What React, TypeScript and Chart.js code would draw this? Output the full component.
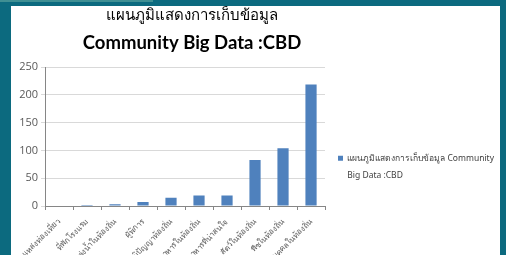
import { useEffect, useRef } from "react";
import { Chart, registerables } from "chart.js";
Chart.register(...registerables);

const categories = [
  "แหล่งท่องเที่ยว",
  "ที่พักโรงแรม",
  "แหล่งน้ำในท้องถิ่น",
  "ผู้พิการ",
  "ภูมิปัญญาท้องถิ่น",
  "อาหารในท้องถิ่น",
  "อาหารที่น่าสนใจ",
  "สัตว์ในท้องถิ่น",
  "พืชในท้องถิ่น",
  "บุคคลในท้องถิ่น",
];
const values = [0, 2, 3, 7, 15, 19, 19, 83, 104, 219];
const seriesLabel = "แผนภูมิแสดงการเก็บข้อมูล Community Big Data :CBD";
const legendLines = ["แผนภูมิแสดงการเก็บข้อมูล Community", "Big Data :CBD"];
const titleText = "แผนภูมิแสดงการเก็บข้อมูล";
const subtitleText = "Community Big Data :CBD";
const yMin = 0;
const yMax = 250;
const yStep = 50;

const FONT = "'Noto Sans', 'Open Sans', sans-serif";

export default function App() {
  const ref = useRef<HTMLCanvasElement>(null);
  useEffect(() => {
    document.body.style.margin = "0";
    const chart = new Chart(ref.current!, {
      type: "bar",
      data: {
        labels: categories,
        datasets: [
          {
            label: seriesLabel,
            data: values,
            backgroundColor: "#4f81bd",
            categoryPercentage: 1,
            barPercentage: 0.4,
          },
        ],
      },
      options: {
        animation: false,
        responsive: false,
        maintainAspectRatio: false,
        layout: { padding: { left: -131, right: -4, top: 0, bottom: 0 } },
        plugins: {
          tooltip: { enabled: false },
          title: {
            display: true,
            text: titleText,
            fullSize: true,
            color: "#000",
            font: { family: FONT, size: 15, weight: "normal", lineHeight: 1.2 },
            padding: { top: 1, bottom: 3 },
          },
          subtitle: {
            display: true,
            text: subtitleText,
            fullSize: true,
            color: "#000",
            font: { family: "Lato, 'Open Sans', sans-serif", size: 18.5, weight: "bold", lineHeight: 1.2 },
            padding: { top: 4, bottom: 13 },
          },
          legend: {
            display: true,
            position: "right",
            align: "start",
            maxWidth: 300,
            title: {
              display: true,
              text: "",
              font: { size: 10, lineHeight: 1 },
              padding: { top: 125, bottom: 0 },
            },
            labels: {
              boxWidth: 5,
              boxHeight: 5,
              padding: 13,
              color: "#404040",
              font: { family: FONT, size: 8.5, lineHeight: 2.0 },
              generateLabels: (c: any) => {
                const items = Chart.defaults.plugins.legend.labels.generateLabels(c);
                items.forEach((it: any) => {
                  it.text = legendLines;
                  it.lineWidth = 0;
                });
                return items;
              },
            },
          },
        },
        scales: {
          x: {
            grid: { drawOnChartArea: false, offset: true, tickLength: 4, color: "#868686" },
            border: { color: "#868686" },
            ticks: {
              minRotation: 45,
              maxRotation: 45,
              autoSkip: false,
              color: "#595959",
              padding: 7,
              font: { family: FONT, size: 8 },
            },
            afterFit: (s: any) => {
              s.height = 49;
            },
          },
          y: {
            min: yMin,
            max: yMax,
            ticks: {
              stepSize: yStep,
              color: "#595959",
              padding: 3,
              font: { family: "'Open Sans', sans-serif", size: 11 },
            },
            grid: { color: "#d9d9d9", tickLength: 4 },
            border: { color: "#868686" },
            afterFit: (s: any) => {
              s.width = 165;
            },
          },
        },
      },
    } as any);
    return () => chart.destroy();
  }, []);
  return (
    <div
      style={{
        position: "fixed",
        left: 0,
        top: 0,
        width: 506,
        height: 255,
        background: "#0c6a7f",
        overflow: "hidden",
      }}
    >
      <div style={{ position: "absolute", left: 0, top: 0, width: 153, height: 2, background: "#3f8f93" }} />
      <div
        style={{
          position: "absolute",
          left: 11,
          top: 6,
          width: 489,
          height: 249,
          background: "#fff",
          overflow: "hidden",
        }}
      >
        <canvas ref={ref} width={489} height={249} style={{ display: "block" }} />
      </div>
    </div>
  );
}
